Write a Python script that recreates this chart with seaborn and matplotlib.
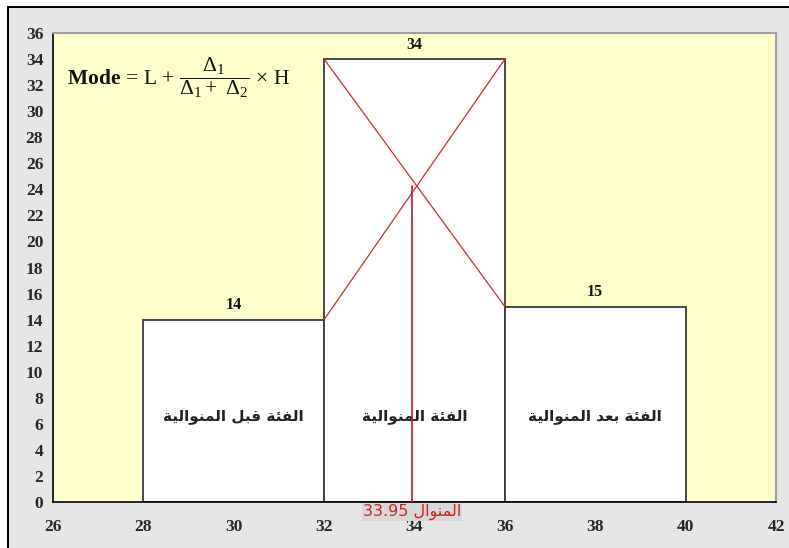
import numpy as np
import pandas as pd
import seaborn as sns
import matplotlib
matplotlib.use("Agg")
import matplotlib.pyplot as plt
from matplotlib.patches import Rectangle

# Class boundaries and frequencies of the three classes around the mode
class_edges = [28, 32, 36, 40]
class_centers = [30, 34, 38]
frequencies = [14, 34, 15]
class_names = ["الفئة قبل المنوالية", "الفئة المنوالية", "الفئة بعد المنوالية"]
mode_label = "المنوال"
mode_value = 33.95
x_ticks = list(range(26, 43, 2))
y_ticks = list(range(0, 37, 2))

# Contextual forms (isolated, final, initial, medial) for the Arabic letters used
FORMS = {
    "ا": ("\uFE8D", "\uFE8E", None, None),
    "ب": ("\uFE8F", "\uFE90", "\uFE91", "\uFE92"),
    "ة": ("\uFE93", "\uFE94", None, None),
    "ئ": ("\uFE89", "\uFE8A", "\uFE8B", "\uFE8C"),
    "د": ("\uFEA9", "\uFEAA", None, None),
    "ع": ("\uFEC9", "\uFECA", "\uFECB", "\uFECC"),
    "ف": ("\uFED1", "\uFED2", "\uFED3", "\uFED4"),
    "ق": ("\uFED5", "\uFED6", "\uFED7", "\uFED8"),
    "ل": ("\uFEDD", "\uFEDE", "\uFEDF", "\uFEE0"),
    "م": ("\uFEE1", "\uFEE2", "\uFEE3", "\uFEE4"),
    "ن": ("\uFEE5", "\uFEE6", "\uFEE7", "\uFEE8"),
    "و": ("\uFEED", "\uFEEE", None, None),
    "ي": ("\uFEF1", "\uFEF2", "\uFEF3", "\uFEF4"),
}


def shape_arabic(text):
    """Join Arabic letters into their contextual forms, in visual (LTR) order."""
    out = []
    n = len(text)
    for i, ch in enumerate(text):
        if ch not in FORMS:
            out.append(ch)
            continue
        prev = text[i - 1] if i > 0 else ""
        nxt = text[i + 1] if i + 1 < n else ""
        joins_prev = prev in FORMS and FORMS[prev][2] is not None
        joins_next = FORMS[ch][2] is not None and nxt in FORMS
        iso, fin, ini, med = FORMS[ch]
        if joins_prev and joins_next:
            out.append(med)
        elif joins_prev:
            out.append(fin)
        elif joins_next:
            out.append(ini)
        else:
            out.append(iso)
    return "".join(out)[::-1]


sns.set_theme(style="white")
plt.rcParams["font.family"] = ["Liberation Serif", "DejaVu Sans"]
plt.rcParams["mathtext.fontset"] = "custom"
plt.rcParams["mathtext.rm"] = "Liberation Serif"
plt.rcParams["mathtext.bf"] = "Liberation Serif:bold"
plt.rcParams["mathtext.it"] = "Liberation Serif:italic"

fig = plt.figure(figsize=(7.89, 5.48), dpi=100, facecolor="white")
W, H = 789, 548

# Chart area panel with its dark frame on the top and left
fig.patches.append(Rectangle((9 / W, 0), 1, 1 - 8 / H, transform=fig.transFigure,
                             facecolor="#e6e6e6", edgecolor="none", zorder=-3))
fig.patches.append(Rectangle((7 / W, 1 - 8 / H), 1, 2.2 / H, transform=fig.transFigure,
                             facecolor="black", edgecolor="none", zorder=-2))
fig.patches.append(Rectangle((7 / W, 0), 2.2 / W, 1 - 6 / H, transform=fig.transFigure,
                             facecolor="black", edgecolor="none", zorder=-2))

ax = fig.add_axes([53 / W, 1 - 502 / H, (776 - 53) / W, (502 - 33) / H])
ax.set_facecolor("#ffffcc")

df = pd.DataFrame({"center": class_centers, "freq": frequencies})
sns.histplot(data=df, x="center", weights="freq", bins=class_edges, ax=ax,
             color="white", alpha=1.0, edgecolor="#3a3a3a", linewidth=1.3, zorder=2)

ax.set_xlim(26, 42)
ax.set_ylim(0, 36)
ax.set_xticks(x_ticks)
ax.set_yticks(y_ticks)
ax.set_xlabel("")
ax.set_ylabel("")
ax.tick_params(axis="both", which="both", direction="out", length=5, width=1.1,
               color="black", labelsize=12.5, pad=2)
for lab in ax.get_xticklabels() + ax.get_yticklabels():
    lab.set_fontweight("bold")
ax.tick_params(axis="x", pad=7)

for side in ("left", "bottom"):
    ax.spines[side].set_color("black")
    ax.spines[side].set_linewidth(1.2)
for side in ("top", "right"):
    ax.spines[side].set_color("#a0a0a0")
    ax.spines[side].set_linewidth(1.5)

# Frequency labels above each bar
for c, f in zip(class_centers, frequencies):
    ax.text(c, f + 1.1, str(f), ha="center", va="center", fontsize=11.5,
            fontweight="bold", color="#111111")

# Class names inside the bars
for c, name in zip(class_centers, class_names):
    ax.text(c, 6.6, shape_arabic(name), ha="center", va="center", fontsize=11,
            fontweight="bold", family=["DejaVu Sans"], color="#222222")

# Diagonals of the modal bar: their crossing locates the mode
f_prev, f_mode, f_next = frequencies
left, right = class_edges[1], class_edges[2]
ax.plot([left, right], [f_mode, f_next], color="#c03030", lw=0.9, zorder=3)
ax.plot([left, right], [f_prev, f_mode], color="#c03030", lw=0.9, zorder=3)
d1, d2 = f_mode - f_prev, f_mode - f_next
t = d1 / (d1 + d2)
cross_y = f_prev + t * (f_mode - f_prev)
ax.plot([mode_value, mode_value], [0, cross_y], color="#b01c2e", lw=1.2, zorder=3)

ax.text(mode_value, -0.12, "33.95 " + shape_arabic(mode_label), ha="center", va="top",
        fontsize=11.5, family=["DejaVu Sans"], color="#d02020", clip_on=False,
        bbox=dict(boxstyle="square,pad=0.05", facecolor="#d8d8d8", edgecolor="none"))

# Formula for the mode
ax.text(26.3, 32.6,
        r"$\mathbf{Mode}\,=\,\mathrm{L}\,+\,\dfrac{\Delta_1}{\Delta_1 +\ \Delta_2}\,\times\,\mathrm{H}$",
        ha="left", va="center", fontsize=15.5, color="#111111")

fig.savefig("out.png", dpi=100, facecolor=fig.get_facecolor())
